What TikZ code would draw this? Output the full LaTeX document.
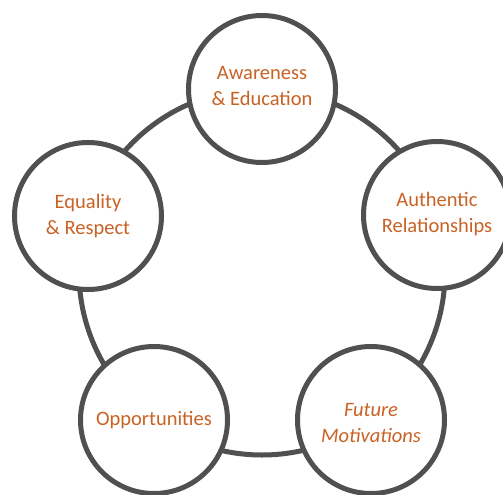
\documentclass[tikz,border=0pt]{standalone}
\usepackage{fontspec}
\setmainfont{Carlito}
\definecolor{ring}{HTML}{505050}
\definecolor{label}{HTML}{C96224}
\begin{document}
\begin{tikzpicture}[x=1bp,y=-1bp,
  topic/.style={circle, draw=ring, line width=5bp, fill=white,
    minimum size=147bp, inner sep=0pt},
  topictext/.style={text=label, align=center, inner sep=0pt,
    font=\fontsize{20.5bp}{26bp}\selectfont}]
\useasboundingbox (0,0) rectangle (503,495);
% ring joining the five topics
\coordinate (hub) at (262,272);
\draw[ring, line width=5bp] (hub) circle[radius=183bp];
% the five topic circles
\node[topic] (aware)  at (262,89)  {};
\node[topic] (auth)   at (437,215) {};
\node[topic] (future) at (371,420) {};
\node[topic] (opp)    at (154,420) {};
\node[topic] (equal)  at (88,216)  {};
% their captions
\node[topictext] (awaretxt)  at ([yshift=3bp]aware)  {Awareness\\\& Education};
\node[topictext] (authtxt)   at ([yshift=1bp]auth)   {Authentic\\Relationships};
\node[topictext, font=\fontsize{20.5bp}{26bp}\selectfont\itshape]
     (futuretxt) at ([yshift=-3bp]future) {Future\\Motivations};
\node[topictext] (opptxt)    at (opp)    {Opportunities};
\node[topictext] (equaltxt)  at (equal)  {Equality\\\& Respect};
\end{tikzpicture}
\end{document}
